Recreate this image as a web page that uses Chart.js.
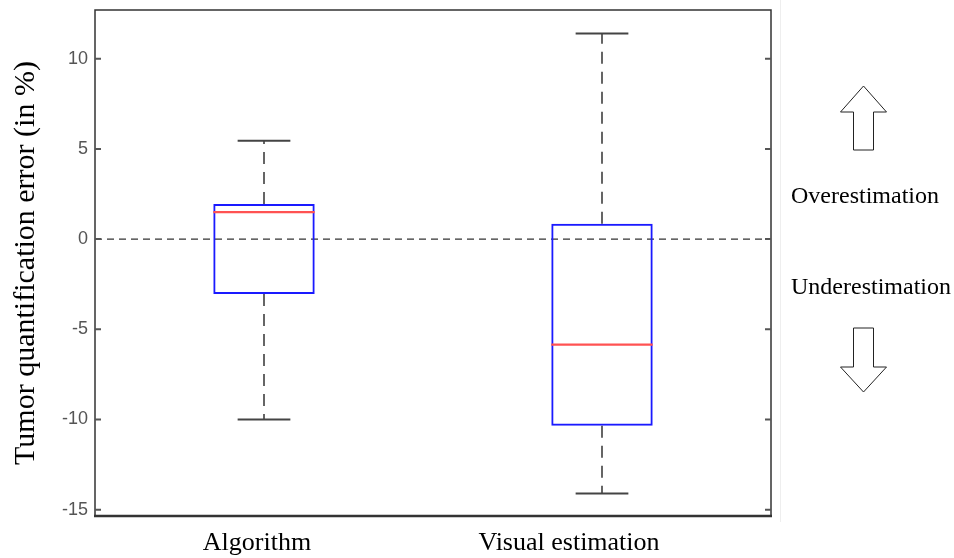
<!DOCTYPE html>
<html>
<head>
<meta charset="utf-8">
<script src="https://cdn.jsdelivr.net/npm/chart.js@4/dist/chart.umd.min.js"></script>
<style>
  html, body { margin: 0; padding: 0; background: #fff; }
  #wrap { width: 954px; height: 558px; }
</style>
</head>
<body>
<div id="wrap"><canvas id="boxChart"></canvas></div>
<script>
// Box plot: tumour quantification error, algorithm vs visual estimation
const categories = ['Algorithm', 'Visual estimation'];
const labelShift = [-7, -33];
const whiskerLow = [-10.0, -14.1];
const q1 = [-3.05, -10.35];
const median = [1.5, -5.85];
const q3 = [1.95, 0.85];
const whiskerHigh = [5.45, 11.4];
const yTicks = [-15, -10, -5, 0, 5, 10];
const yMin = -15.35;
const yMax = 12.7;

const serif = '"Liberation Serif", "Times New Roman", serif';

// zero line, whiskers, medians, frame, inward ticks, side notes
const boxExtras = {
    id: 'boxExtras',
    beforeDatasetsDraw(chart) {
        const ctx = chart.ctx;
        const a = chart.chartArea;
        const y0 = chart.scales.y.getPixelForValue(0);
        ctx.save();
        ctx.strokeStyle = '#333';
        ctx.lineWidth = 1.2;
        ctx.setLineDash([7, 5]);
        ctx.beginPath();
        ctx.moveTo(a.left, y0);
        ctx.lineTo(a.right, y0);
        ctx.stroke();
        ctx.restore();
    },
    afterDatasetsDraw(chart) {
        const ctx = chart.ctx;
        const a = chart.chartArea;
        const ys = chart.scales.y;
        const xs = chart.scales.x;
        const meta = chart.getDatasetMeta(0);
        ctx.save();
        meta.data.forEach((bar, i) => {
            const x = bar.x;
            const half = bar.width / 2;
            const cap = bar.width * 0.26;
            // whiskers
            ctx.strokeStyle = '#333';
            ctx.lineWidth = 1.5;
            ctx.setLineDash([12, 8]);
            ctx.beginPath();
            ctx.moveTo(x, ys.getPixelForValue(q3[i]));
            ctx.lineTo(x, ys.getPixelForValue(whiskerHigh[i]));
            ctx.moveTo(x, ys.getPixelForValue(q1[i]));
            ctx.lineTo(x, ys.getPixelForValue(whiskerLow[i]));
            ctx.stroke();
            // caps
            ctx.setLineDash([]);
            ctx.strokeStyle = '#444';
            ctx.lineWidth = 2;
            ctx.beginPath();
            [whiskerHigh[i], whiskerLow[i]].forEach(v => {
                const y = ys.getPixelForValue(v);
                ctx.moveTo(x - cap, y);
                ctx.lineTo(x + cap, y);
            });
            ctx.stroke();
            // median
            ctx.strokeStyle = '#ff5252';
            ctx.lineWidth = 2.2;
            ctx.beginPath();
            const ym = ys.getPixelForValue(median[i]);
            ctx.moveTo(x - half, ym);
            ctx.lineTo(x + half, ym);
            ctx.stroke();
        });
        // frame
        ctx.strokeStyle = '#333';
        ctx.lineWidth = 1.5;
        ctx.strokeRect(a.left, a.top, a.right - a.left, a.bottom - a.top);
        ctx.lineWidth = 2.5;
        ctx.beginPath();
        ctx.moveTo(a.left - 1, a.bottom);
        ctx.lineTo(a.right + 1, a.bottom);
        ctx.stroke();
        // inward ticks, both sides
        ctx.strokeStyle = '#555';
        ctx.lineWidth = 2;
        ctx.beginPath();
        yTicks.forEach(v => {
            const y = ys.getPixelForValue(v);
            ctx.moveTo(a.left, y);
            ctx.lineTo(a.left + 6, y);
            ctx.moveTo(a.right, y);
            ctx.lineTo(a.right - 6, y);
        });
        ctx.stroke();

        // category labels (slightly left of the box centres, as in the original)
        ctx.fillStyle = '#000';
        ctx.font = '26px ' + serif;
        ctx.textAlign = 'center';
        ctx.textBaseline = 'alphabetic';
        categories.forEach((c, i) => {
            ctx.fillText(c, xs.getPixelForValue(i) + labelShift[i], 550);
        });

        // side notes
        ctx.strokeStyle = '#eee';
        ctx.lineWidth = 1;
        ctx.beginPath();
        ctx.moveTo(780.5, 0);
        ctx.lineTo(780.5, 522);
        ctx.stroke();

        ctx.font = '24px ' + serif;
        ctx.textAlign = 'left';
        ctx.fillText('Overestimation', 791, 203);
        ctx.fillText('Underestimation', 791, 294);

        ctx.strokeStyle = '#222';
        ctx.lineWidth = 1;
        ctx.fillStyle = '#fff';
        // up arrow
        ctx.beginPath();
        ctx.moveTo(863.5, 86);
        ctx.lineTo(886.5, 112);
        ctx.lineTo(873.5, 112);
        ctx.lineTo(873.5, 150);
        ctx.lineTo(853.5, 150);
        ctx.lineTo(853.5, 112);
        ctx.lineTo(840.5, 112);
        ctx.closePath();
        ctx.fill();
        ctx.stroke();
        // down arrow
        ctx.beginPath();
        ctx.moveTo(853.5, 328);
        ctx.lineTo(873.5, 328);
        ctx.lineTo(873.5, 367);
        ctx.lineTo(886.5, 367);
        ctx.lineTo(863.5, 392);
        ctx.lineTo(840.5, 367);
        ctx.lineTo(853.5, 367);
        ctx.closePath();
        ctx.fill();
        ctx.stroke();
        ctx.restore();
    }
};

const data = {
    labels: categories,
    datasets: [{
        label: 'IQR',
        data: categories.map((c, i) => [q1[i], q3[i]]),
        backgroundColor: 'rgba(0,0,0,0)',
        borderColor: '#1a1aff',
        borderWidth: 2,
        borderSkipped: false,
        barPercentage: 0.3,
        categoryPercentage: 1
    }]
};

const config = {
    type: 'bar',
    data: data,
    options: {
        responsive: false,
        animation: false,
        layout: {
            padding: { top: 10, right: 183, left: 0, bottom: 0 }
        },
        plugins: {
            legend: { display: false },
            tooltip: { enabled: false }
        },
        scales: {
            x: {
                grid: { display: false, drawTicks: false },
                border: { display: false },
                ticks: { display: false },
                afterFit: (s) => { s.height = 42; }
            },
            y: {
                min: yMin,
                max: yMax,
                grid: { display: false, drawTicks: false },
                border: { display: false },
                afterBuildTicks: (s) => { s.ticks = yTicks.map(v => ({ value: v })); },
                afterFit: (s) => {
                    s.width = 95;
                    s.paddingTop = 0;
                    s.paddingBottom = 0;
                },
                ticks: {
                    color: '#555',
                    padding: 7,
                    font: { size: 18, family: '"Liberation Sans", Arial, sans-serif' }
                },
                title: {
                    display: true,
                    text: 'Tumor quantification error (in %)',
                    color: '#000',
                    padding: { top: 8, bottom: 0 },
                    font: { size: 30, family: serif }
                }
            }
        }
    },
    plugins: [boxExtras]
};

const canvas = document.getElementById('boxChart');
canvas.width = 954;
canvas.height = 558;
const myChart = new Chart(canvas, config);
</script>
</body>
</html>
